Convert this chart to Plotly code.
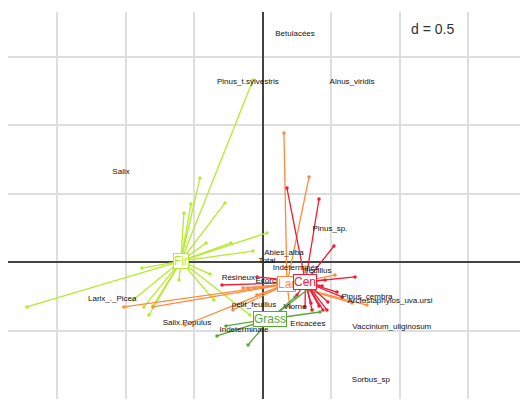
import plotly.graph_objects as go

# Site scores on the first two axes, grouped by vegetation class
fir_x = [-0.073, -0.46, -0.526, -0.577, -0.277, 0.029, -0.416, -0.073, -1.723, -0.883,
         -0.949, -0.869, -0.832, -0.803, -0.613, -0.387, -0.358, -0.095, -0.234]
fir_y = [1.328, 0.613, 0.423, 0.358, 0.431, 0.212, 0.139, 0.080, -0.328, -0.044,
         -0.277, -0.328, -0.387, -0.321, -0.131, -0.088, -0.277, -0.387, 0.139]

lar_x = [0.153, 0.336, -1.015, -0.803, -0.569, -0.146, -0.109, -0.044, -0.219, 0.526,
         0.759, 0.650, 0.197]
lar_y = [0.942, 0.620, -0.328, -0.328, -0.460, -0.190, -0.190, -0.241, -0.350, -0.095,
         -0.314, -0.299, -0.328]

cen_x = [0.175, 0.409, 0.518, 0.672, -0.299, -0.044, 0.350, 0.409, 0.438, 0.467,
         0.307, 0.248, 0.474, 0.577, 0.540, 0.358, 0.453, 0.431]
cen_y = [0.540, 0.460, 0.117, -0.109, -0.168, -0.109, -0.299, -0.321, -0.350, -0.350,
         -0.328, -0.241, -0.292, -0.255, -0.219, -0.350, -0.131, -0.175]

grass_x = [-0.336, -0.270, -0.109, 0.416, 0.350, 0.234]
grass_y = [-0.540, -0.467, -0.606, -0.365, -0.182, -0.255]

# Class centroids
group_names = ["Fir", "Lar", "Cen", "Grass"]
centroid_x = [-0.599, 0.175, 0.310, 0.051]
centroid_y = [0.007, -0.161, -0.146, -0.416]
group_colors = ["#b4ec2c", "#ff8a3d", "#f21c36", "#58a838"]

# Taxon scores
taxa = ["Betulacées", "Pinus_t.sylvestris", "Alnus_viridis", "Salix", "Pinus_sp.",
        "Abies_alba", "Total", "Indéterminés", "Feuillus", "Résineux", "Ecorce",
        "Larix_._Picea", "Salix.Populus", "petit_feuillus", "Viorne", "Ericacées",
        "Indeterminate", "Pinus_cembra", "Arctostaphylos_uva.ursi",
        "Vaccinium_uliginosum", "Sorbus_sp"]
taxa_x = [0.234, -0.11, 0.65, -1.036, 0.489, 0.153, 0.029, 0.24, 0.40, -0.18, 0.036,
          -1.10, -0.555, -0.066, 0.234, 0.328, -0.139, 0.759, 0.927, 0.94, 0.788]
taxa_y = [1.664, 1.314, 1.314, 0.657, 0.241, 0.066, 0.007, -0.044, -0.066, -0.117, -0.139,
          -0.27, -0.445, -0.314, -0.328, -0.453, -0.496, -0.255, -0.285, -0.474, -0.861]

groups = [(fir_x, fir_y), (lar_x, lar_y), (cen_x, cen_y), (grass_x, grass_y)]

fig = go.Figure()

# Star lines from each class centroid to its sites
for (gx, gy), cx, cy, col in zip(groups, centroid_x, centroid_y, group_colors):
    sx, sy = [], []
    for px, py in zip(gx, gy):
        sx += [cx, px, None]
        sy += [cy, py, None]
    fig.add_trace(go.Scatter(x=sx, y=sy, mode="lines",
                             line=dict(color=col, width=1.3),
                             hoverinfo="skip", showlegend=False))
    fig.add_trace(go.Scatter(x=gx, y=gy, mode="markers",
                             marker=dict(color=col, size=3.5),
                             hoverinfo="skip", showlegend=False))

fig.add_trace(go.Scatter(x=taxa_x, y=taxa_y, mode="text", text=taxa,
                         textfont=dict(family="Liberation Sans, Arial", size=8, color="#111111"),
                         hoverinfo="skip", showlegend=False))

for name, cx, cy, col in zip(group_names, centroid_x, centroid_y, group_colors):
    fig.add_annotation(x=cx, y=cy, text=name, showarrow=False,
                       font=dict(family="Liberation Sans, Arial", size=12, color=col),
                       bgcolor="white", bordercolor=col, borderwidth=1, borderpad=0)

fig.add_annotation(x=1.24, y=1.70, text="d = 0.5", showarrow=False,
                   font=dict(family="Liberation Sans, Arial", size=14, color="#333333"))

axis_common = dict(showticklabels=False, ticks="", dtick=0.5, tick0=0,
                   showgrid=True, gridcolor="#dedede", gridwidth=1.5,
                   zeroline=True, zerolinecolor="#444444", zerolinewidth=1.5,
                   showline=False)

fig.update_layout(
    width=525, height=406,
    margin=dict(l=8, r=5, t=12, b=7),
    paper_bgcolor="white", plot_bgcolor="white",
    xaxis=dict(range=[-1.861, 1.876], **axis_common),
    yaxis=dict(range=[-1.0, 1.825], **axis_common),
)

fig.write_html("out.html")
